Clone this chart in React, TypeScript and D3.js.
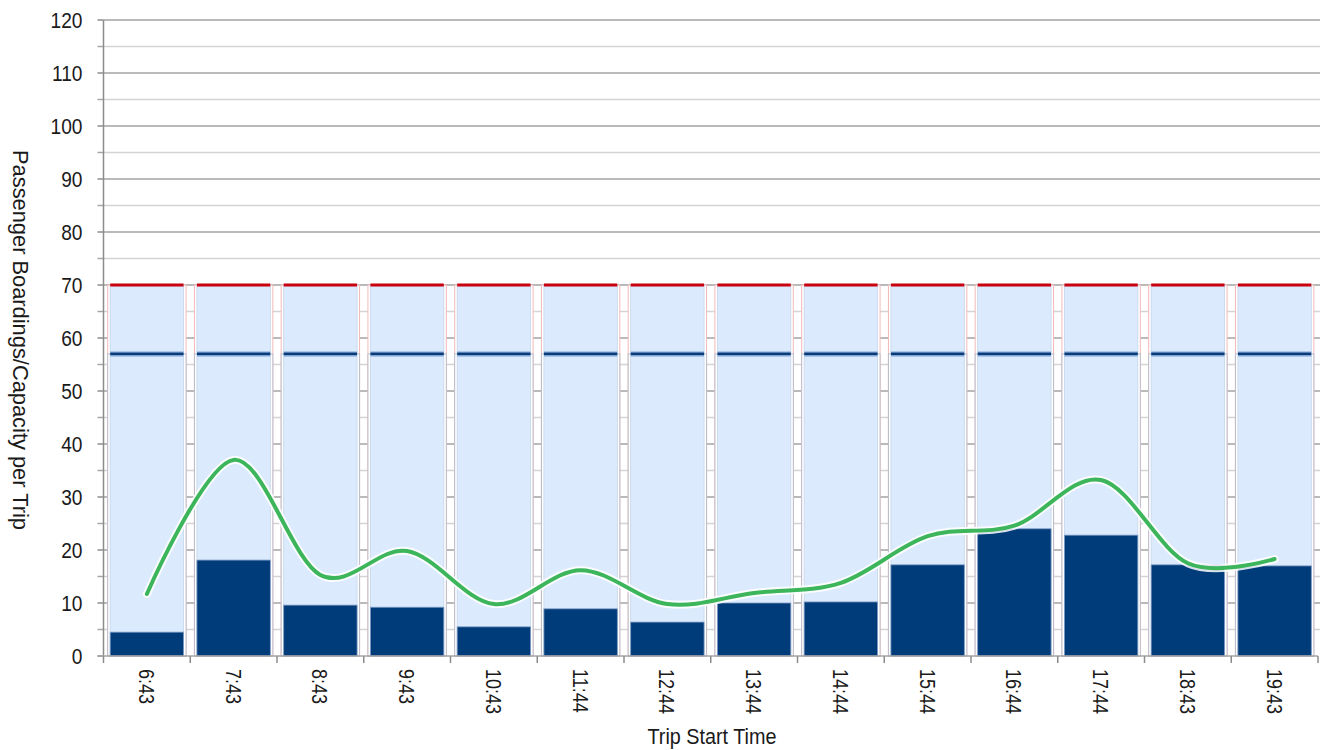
import React from "react";
import * as d3 from "d3";

const categories = ["6:43","7:43","8:43","9:43","10:43","11:44","12:44","13:44","14:44","15:44","16:44","17:44","18:43","19:43"];
const boardings = [4.5, 18.1, 9.6, 9.2, 5.5, 8.9, 6.4, 10.0, 10.2, 17.2, 24.0, 22.8, 17.2, 17.0];
const maxLoad = [11.7, 37.0, 15.3, 19.8, 9.8, 16.2, 9.8, 11.9, 13.8, 22.6, 24.6, 33.2, 17.5, 18.3];
const seatedCapacity = [57, 57, 57, 57, 57, 57, 57, 57, 57, 57, 57, 57, 57, 57];
const totalCapacity = [70, 70, 70, 70, 70, 70, 70, 70, 70, 70, 70, 70, 70, 70];
const yTicks = [0, 10, 20, 30, 40, 50, 60, 70, 80, 90, 100, 110, 120];
const yMinorTicks = [5, 15, 25, 35, 45, 55, 65, 75, 85, 95, 105, 115];

const W = 1327, H = 750;
const left = 103.5, right = 1318, top = 20, bottom = 656;
const FONT = "'Liberation Sans Narrow', 'Arial Narrow', 'Liberation Sans', Arial, sans-serif";

export default function App() {
  const x = d3.scaleBand<string>().domain(categories).range([left, right]).paddingInner(0.154).paddingOuter(0.077);
  const y = d3.scaleLinear().domain([0, 120]).range([bottom, top]);
  const bw = x.bandwidth();
  const step = x.step();
  const lineGen = d3.line<number>()
    .x((_, i) => (x(categories[i]) as number) + bw / 2)
    .y((d) => y(d))
    .curve(d3.curveCardinal.tension(0));
  const path = lineGen(maxLoad) || "";
  const boundaries = d3.range(categories.length + 1).map((i) => left + i * step);

  return (
    <svg width={W} height={H} style={{ position: "absolute", left: 0, top: 0, background: "#fff" }}>
      {/* minor gridlines */}
      {yMinorTicks.map((t) => (
        <g key={"m" + t}>
          <line x1={left} x2={right + 2} y1={y(t)} y2={y(t)} stroke="#d4d4d4" strokeWidth={1.5} />
          <line x1={left - 6} x2={left} y1={y(t)} y2={y(t)} stroke="#a6a6a6" strokeWidth={1.5} />
        </g>
      ))}
      {/* major gridlines */}
      {yTicks.map((t) => (
        <g key={"M" + t}>
          {t > 0 && <line x1={left} x2={right + 2} y1={y(t)} y2={y(t)} stroke="#a3a3a3" strokeWidth={1.5} />}
          <line x1={left - 6} x2={left} y1={y(t)} y2={y(t)} stroke="#8c8c8c" strokeWidth={1.5} />
          <text transform={`translate(${left - 21},${y(t)}) scale(0.87,1)`} dy="0.36em" textAnchor="end" fontFamily={FONT} fontSize={22} fill="#1a1a1a">{t}</text>
        </g>
      ))}

      {/* bars */}
      {categories.map((c, i) => {
        const x0 = x(c) as number;
        return (
          <g key={c}>
            <rect x={x0 - 2.5} y={y(totalCapacity[i])} width={bw + 5} height={bottom - y(totalCapacity[i])} fill="#fff" stroke="#f3b9b9" strokeWidth={1} />
            <rect x={x0 - 2.5} y={y(seatedCapacity[i])} width={bw + 5} height={bottom - y(seatedCapacity[i])} fill="#fff" stroke="#b9bccb" strokeWidth={1} />
            <rect x={x0} y={y(totalCapacity[i])} width={bw} height={bottom - y(totalCapacity[i])} fill="#dbeafc" stroke="#c5d6ec" strokeWidth={0.8} />
            <line x1={x0} x2={x0 + bw} y1={y(totalCapacity[i])} y2={y(totalCapacity[i])} stroke="#c8000f" strokeWidth={3} />
            <line x1={x0} x2={x0 + bw} y1={y(seatedCapacity[i])} y2={y(seatedCapacity[i])} stroke="#aac6ea" strokeWidth={6} />
            <line x1={x0} x2={x0 + bw} y1={y(seatedCapacity[i])} y2={y(seatedCapacity[i])} stroke="#0a3c7c" strokeWidth={2.8} />
            <rect x={x0} y={y(boardings[i])} width={bw} height={bottom - y(boardings[i])} fill="#003b7a" stroke="#7f9cc4" strokeWidth={0.8} />
          </g>
        );
      })}

      {/* axes */}
      <line x1={left} x2={left} y1={top} y2={bottom + 1} stroke="#8c8c8c" strokeWidth={1.5} />
      <line x1={left - 6} x2={right} y1={bottom} y2={bottom} stroke="#a6a6a6" strokeWidth={1.5} />
      {boundaries.map((bx, i) => (
        <line key={"t" + i} x1={bx} x2={bx} y1={bottom} y2={bottom + 7} stroke="#8c8c8c" strokeWidth={1.5} />
      ))}

      {/* line with halo */}
      <path d={path} fill="none" stroke="#ffffff" strokeOpacity={0.85} strokeWidth={8} strokeLinecap="round" />
      <path d={path} fill="none" stroke="#3db55b" strokeWidth={4} strokeLinecap="round" />

      {/* x labels */}
      {categories.map((c) => {
        const cx = (x(c) as number) + bw / 2;
        return (
          <text key={"xl" + c} transform={`translate(${cx},${bottom + 13}) rotate(90) scale(0.82,1)`} dy="0.36em" textAnchor="start" fontFamily={FONT} fontSize={22} fill="#1a1a1a">{c}</text>
        );
      })}

      <text x={712} y={744} textAnchor="middle" fontFamily={FONT} fontSize={22} fill="#1a1a1a" textLength={129} lengthAdjust="spacingAndGlyphs">Trip Start Time</text>
      <text transform={`translate(13,340) rotate(90)`} textAnchor="middle" fontFamily={FONT} fontSize={22} fill="#1a1a1a" textLength={380} lengthAdjust="spacingAndGlyphs">Passenger Boardings/Capacity per Trip</text>
    </svg>
  );
}
